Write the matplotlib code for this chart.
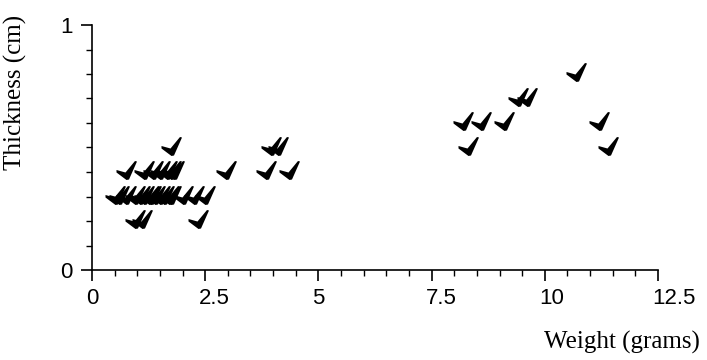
import matplotlib
matplotlib.use("Agg")
import matplotlib.pyplot as plt
import numpy as np
from matplotlib.path import Path
from matplotlib.ticker import MultipleLocator, FixedLocator
import matplotlib.transforms as mtransforms

# Data (weight in grams, thickness in cm)
weight = [
    # thickness 0.3
    0.5, 0.6, 0.75, 0.95, 1.05, 1.15, 1.25, 1.3, 1.4, 1.5, 1.6, 1.7, 1.75, 2.0, 2.25, 2.5,
    # thickness 0.4
    0.75, 1.15, 1.35, 1.5, 1.65, 1.75, 1.8, 2.95, 3.85, 4.35,
    # thickness 0.2
    0.95, 1.1, 2.35,
    # thickness 0.5
    1.75, 3.95, 4.1, 8.3, 11.4,
    # thickness 0.6
    8.2, 8.6, 9.1, 11.2,
    # thickness 0.7
    9.4, 9.6,
    # thickness 0.8
    10.7,
]
thickness = (
    [0.3] * 16 + [0.4] * 10 + [0.2] * 3 + [0.5] * 5 + [0.6] * 4 + [0.7] * 2 + [0.8] * 1
)
x_ticks = [0, 2.5, 5, 7.5, 10, 12.5]
x_ticklabels = ["0", "2.5", "5", "7.5", "10", "12.5"]
y_ticks = [0, 1]
y_ticklabels = ["0", "1"]

# check-mark marker (pixel units, glyph raised ~2 px above the data point)
DPI = 100
glyph = np.array([(-10, 0.5), (-1, -2), (8.5, 9.5), (10.5, 9), (2.5, -9), (0, -9.5),
                  (-10, -2), (-10, 0.5)], dtype=float)
glyph[:, 1] += 2.0
codes = [Path.MOVETO] + [Path.LINETO] * 6 + [Path.CLOSEPOLY]
check = Path(glyph, codes)
ms = 2 * np.abs(glyph).max() * 72 / DPI

fig = plt.figure(figsize=(7.07, 3.6), dpi=DPI)
ax = fig.add_axes([92 / 707, 90 / 360, 566 / 707, 245 / 360])

ax.plot(weight, thickness, linestyle="none", marker=check, markersize=ms,
        color="black", markeredgewidth=0, clip_on=False)

ax.set_xlim(0, 12.5)
ax.set_ylim(0, 1)
for s in ["top", "right"]:
    ax.spines[s].set_visible(False)
for s in ["left", "bottom"]:
    ax.spines[s].set_linewidth(1.2)

ax.xaxis.set_major_locator(FixedLocator(x_ticks))
ax.xaxis.set_minor_locator(MultipleLocator(0.5))
ax.yaxis.set_major_locator(FixedLocator(y_ticks))
ax.yaxis.set_minor_locator(MultipleLocator(0.1))
ax.set_xticklabels(x_ticklabels)
ax.set_yticklabels(y_ticklabels)

ax.tick_params(which="major", direction="out", length=8, width=1.2)
ax.tick_params(which="minor", direction="out", length=4.5, width=1.0)
ax.tick_params(axis="x", which="major", pad=5)
ax.tick_params(axis="y", which="major", pad=6)

for lab in ax.get_xticklabels() + ax.get_yticklabels():
    lab.set_fontfamily("Liberation Sans")
    lab.set_fontsize(16)

offset = mtransforms.ScaledTranslation(-6 / DPI, 0, fig.dpi_scale_trans)
for lab in ax.get_xticklabels():
    lab.set_horizontalalignment("left")
    lab.set_transform(lab.get_transform() + offset)

fig.text(15 / 707, 1 - 92 / 360, "Thickness (cm)", rotation=90, ha="center", va="center",
         fontfamily="Liberation Serif", fontsize=18)
fig.text(700 / 707, 1 - 342 / 360, "Weight (grams)", ha="right", va="center",
         fontfamily="Liberation Serif", fontsize=18)

fig.savefig("out.png", dpi=DPI)
